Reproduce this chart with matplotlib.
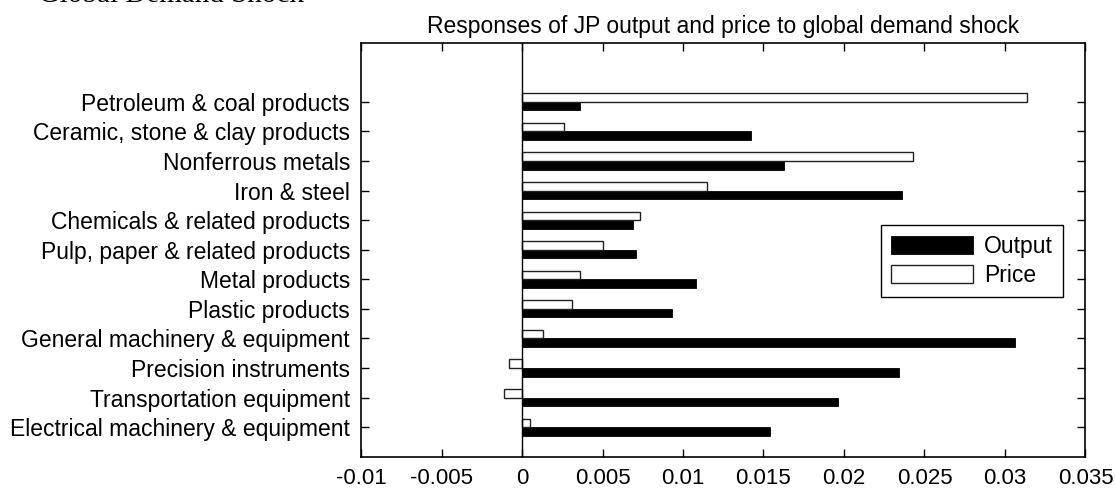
import matplotlib.pyplot as plt
import numpy as np

sectors = ['Petroleum & coal products', 'Ceramic, stone & clay products', 'Nonferrous metals',
           'Iron & steel', 'Chemicals & related products', 'Pulp, paper & related products',
           'Metal products', 'Plastic products', 'General machinery & equipment',
           'Precision instruments', 'Transportation equipment', 'Electrical machinery & equipment']
output = [0.0036, 0.0142, 0.0163, 0.0236, 0.0069, 0.0071, 0.0108, 0.0093, 0.0306, 0.0234, 0.0196, 0.0154]
price = [0.0314, 0.0026, 0.0243, 0.0115, 0.0073, 0.0050, 0.0036, 0.0031, 0.0013, -0.0008, -0.0011, 0.0005]
xticks = [-0.01, -0.005, 0, 0.005, 0.01, 0.015, 0.02, 0.025, 0.03, 0.035]
xticklabels = ['-0.01', '-0.005', '0', '0.005', '0.01', '0.015', '0.02', '0.025', '0.03', '0.035']

plt.rcParams['font.family'] = 'Liberation Sans'
plt.rcParams['xtick.direction'] = 'in'
plt.rcParams['ytick.direction'] = 'in'

fig = plt.figure(figsize=(11.15, 4.92), dpi=100)
ax = fig.add_axes([0.3238, 0.0717, 0.6497, 0.8415])

n = len(sectors)
pos = np.arange(n, 0, -1)
h = 0.29

ax.barh(pos - h / 2, output, height=h, color='black', edgecolor='black', linewidth=0.6, label='Output')
ax.barh(pos + h / 2, price, height=h, color='white', edgecolor='#222222', linewidth=1.0, label='Price')
ax.axvline(0, color='black', linewidth=1.0)

ax.set_xlim(-0.01, 0.035)
ax.set_ylim(0, 14)
ax.set_xticks(xticks)
ax.set_xticklabels(xticklabels, fontsize=16)
ax.set_yticks(pos)
ax.set_yticklabels(sectors, fontsize=16.5)
ax.tick_params(top=True, right=True, length=6, width=1, pad=8)
for s in ax.spines.values():
    s.set_linewidth(1.2)

ax.set_title('Responses of JP output and price to global demand shock', fontsize=16.5, pad=7)
leg = ax.legend(loc='upper right', bbox_to_anchor=(0.969, 0.560), borderaxespad=0, fontsize=16.5,
                fancybox=False, edgecolor='black', framealpha=1, handlelength=3.6, handleheight=0.85,
                handletextpad=0.45, labelspacing=0.25, borderpad=0.45)
leg.get_frame().set_linewidth(1.0)

fig.text(0.02, 0.996, '<Global Demand Shock>', fontsize=21, family='Liberation Serif', va='baseline', ha='left')

fig.savefig('out.png', dpi=100)
